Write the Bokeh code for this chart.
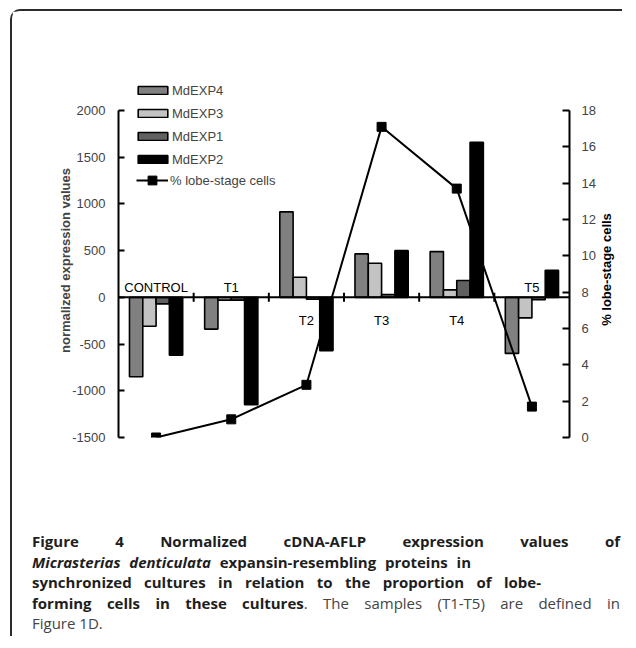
import math
from bokeh.plotting import figure
from bokeh.models import (Range1d, LinearAxis, FixedTicker, Span, Legend, LegendItem, Div, Label)
from bokeh.layouts import column
from bokeh.embed import file_html
from bokeh.resources import INLINE
from bokeh.core.properties import value

# ---------------- data ----------------
categories = ["CONTROL", "T1", "T2", "T3", "T4", "T5"]
series_names = ["MdEXP4", "MdEXP3", "MdEXP1", "MdEXP2"]
mdexp4 = [-850, -340, 915, 465, 490, -600]
mdexp3 = [-310, -30, 215, 365, 80, -220]
mdexp1 = [-70, -30, -20, 30, 180, -25]
mdexp2 = [-620, -1150, -570, 500, 1660, 290]
lobe_pct = [0.0, 1.0, 2.9, 17.1, 13.7, 1.7]
line_name = "% lobe-stage cells"
left_title = "normalized expression values"
left_ticks = [-1500, -1000, -500, 0, 500, 1000, 1500, 2000]
right_ticks = [0, 2, 4, 6, 8, 10, 12, 14, 16, 18]
label_side = ["above", "above", "below", "below", "below", "above"]
series_colors = ["#808080", "#c3c3c3", "#606060", "#000000"]

caption_bold_1 = "Figure 4 Normalized cDNA-AFLP expression values of"
caption_italic = "Micrasterias denticulata"
caption_bold_2 = " expansin-resembling proteins in"
caption_bold_3 = "synchronized cultures in relation to the proportion of lobe-"
caption_bold_4 = "forming cells in these cultures"
caption_reg_4 = ". The samples (T1-T5) are defined in"
caption_reg_5 = "Figure 1D."

FONT = "Liberation Sans"

# ---------------- figure ----------------
p = figure(width=610, height=511, output_backend="svg", toolbar_location=None,
           x_range=Range1d(0, 6), y_range=Range1d(-1500, 2289),
           x_axis_location=None, min_border_left=106, min_border_right=53,
           min_border_top=72, min_border_bottom=85)
p.extra_y_ranges = {"pct": Range1d(0, 19.486)}
p.outline_line_color = None
p.xgrid.visible = False
p.ygrid.visible = False
p.background_fill_color = "white"
p.border_fill_color = "white"

ax = p.yaxis[0]
ax.ticker = FixedTicker(ticks=left_ticks)
ax.major_label_overrides = {t: str(t) for t in left_ticks}
ax.bounds = (-1500, 2000)
ax.major_tick_in = 6
ax.major_tick_out = 0
ax.minor_tick_line_color = None
ax.axis_line_width = 2
ax.major_tick_line_width = 2
ax.major_label_text_font = FONT
ax.major_label_text_font_size = "13px"
ax.major_label_standoff = 13
ax.axis_label = left_title
ax.axis_label_text_font = FONT
ax.axis_label_text_font_style = "bold"
ax.axis_label_text_font_size = "13px"
ax.axis_label_standoff = -4

rax = LinearAxis(y_range_name="pct", ticker=FixedTicker(ticks=right_ticks), bounds=(0, 18))
rax.major_tick_in = 7
rax.major_tick_out = 0
rax.minor_tick_line_color = None
rax.axis_line_width = 2
rax.major_tick_line_width = 2
rax.major_label_text_font = FONT
rax.major_label_text_font_size = "13px"
rax.major_label_standoff = 12
p.add_layout(rax, "right")

# right-hand axis title (reads bottom-to-top as in the original)
p.add_layout(Label(x=8, y=168, x_units="screen", y_units="screen", text=line_name,
                   angle=math.pi / 2, text_align="center", text_baseline="middle",
                   text_font=FONT, text_font_style="bold", text_font_size="13px",
                   text_color="black"), "right")

# ---------------- bars ----------------
n = len(categories)
centers = [i + 0.5 for i in range(n)]
bar_w = 0.177
all_series = [mdexp4, mdexp3, mdexp1, mdexp2]
bar_renderers = []
for k, (vals, col) in enumerate(zip(all_series, series_colors)):
    off = (k - 1.5) * bar_w
    r = p.vbar(x=[c + off for c in centers], top=vals, bottom=0, width=bar_w,
               fill_color=col, line_color="black", line_width=1.6)
    bar_renderers.append(r)

# zero line & category boundary ticks
p.add_layout(Span(location=0, dimension="width", line_color="black", line_width=2))
p.scatter(x=list(range(1, n)), y=[0] * (n - 1), marker="dash", angle=math.pi / 2,
          size=9, line_color="black", line_width=2)

# category labels
offs = {"above": -10, "below": 23}
p.text(x=centers, y=[0] * n, text=categories, y_offset=[offs[s] for s in label_side],
       text_align="center", text_baseline="middle", text_font=value(FONT),
       text_font_size="13px", text_color="black")

# ---------------- line ----------------
lr = p.line(x=centers, y=lobe_pct, y_range_name="pct", line_color="black", line_width=2)
sr = p.scatter(x=centers, y=lobe_pct, y_range_name="pct", marker="square", size=9,
               fill_color="black", line_color="black")

# ---------------- legends ----------------
leg_a = Legend(items=[LegendItem(label=nm, renderers=[r]) for nm, r in zip(series_names, bar_renderers)],
               location=(16, 269), glyph_width=37, glyph_height=10, label_height=18,
               spacing=5, padding=0, margin=0, border_line_color=None,
               background_fill_alpha=0, label_standoff=1,
               label_text_font=FONT, label_text_font_size="13px")
leg_b = Legend(items=[LegendItem(label=line_name, renderers=[lr, sr])],
               location=(18, 246), glyph_width=32, glyph_height=22, label_height=18,
               padding=0, margin=0, border_line_color=None,
               background_fill_alpha=0, label_standoff=2,
               label_text_font=FONT, label_text_font_size="13px")
p.add_layout(leg_a, "center")
p.add_layout(leg_b, "center")

# ---------------- caption ----------------
bold = "font-weight:bold;color:#1e1e1e;"
just = "text-align:justify;text-align-last:justify;white-space:nowrap;"
html = (
    '<div style="padding-left:15px;padding-top:4px;font-family:\'Open Sans\';font-size:15px;'
    'line-height:20.5px;color:#444;">'
    f'<div style="width:588px;{just}{bold}">{caption_bold_1}</div>'
    f'<div style="width:439px;{just}{bold}"><i>{caption_italic}</i>{caption_bold_2}</div>'
    f'<div style="width:509px;{just}{bold}">{caption_bold_3}</div>'
    f'<div style="width:588px;{just}"><b style="color:#1e1e1e;">{caption_bold_4}</b>{caption_reg_4}</div>'
    f'<div>{caption_reg_5}</div>'
    '</div>'
)
div = Div(text=html, width=598, height=104)

layout = column(p, div, margin=(9, 0, 0, 10),
                styles={"border-top": "2px solid #2b2b2b", "border-left": "2px solid #2b2b2b",
                        "border-top-left-radius": "10px"})

open("out.html", "w").write(file_html(layout, INLINE))
